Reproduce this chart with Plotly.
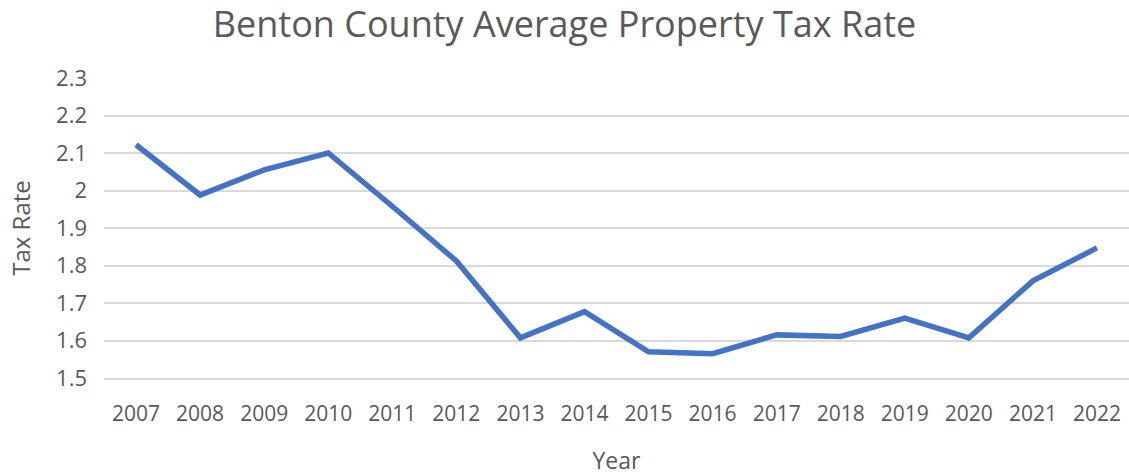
import plotly.graph_objects as go

years = [str(y) for y in range(2007, 2023)]
tax_rate = [2.122, 1.988, 2.055, 2.100, 1.958, 1.812, 1.607, 1.677, 1.570, 1.565,
            1.615, 1.611, 1.660, 1.607, 1.759, 1.847]
y_ticks = [1.5, 1.6, 1.7, 1.8, 1.9, 2.0, 2.1, 2.2, 2.3]
y_tick_text = ["1.5", "1.6", "1.7", "1.8", "1.9", "2", "2.1", "2.2", "2.3"]

FONT = "Open Sans"
GREY = "#595959"

fig = go.Figure()
fig.add_trace(go.Scatter(
    x=years, y=tax_rate, mode="lines",
    line=dict(color="#4472C4", width=5.5),
    hoverinfo="x+y",
))

fig.update_layout(
    width=1129, height=476,
    margin=dict(l=104, r=0, t=78, b=98),
    paper_bgcolor="white", plot_bgcolor="white",
    showlegend=False,
    title=dict(text="Benton County Average Property Tax Rate",
               x=0.5, xanchor="center", y=1 - 24/476, yanchor="middle",
               font=dict(family=FONT, size=36, color=GREY)),
    font=dict(family=FONT, color=GREY),
    xaxis=dict(
        type="category", range=[-0.5, 15.5],
        showgrid=False, zeroline=False,
        showline=True, linecolor="#d9d9d9", linewidth=1.5,
        ticks="", tickfont=dict(family=FONT, size=21, color=GREY),
        ticklabelstandoff=16,
        title=dict(text="Year", font=dict(family=FONT, size=23, color=GREY), standoff=28),
    ),
    yaxis=dict(
        range=[1.5, 2.3], tickvals=y_ticks, ticktext=y_tick_text,
        showgrid=True, gridcolor="#d9d9d9", gridwidth=1.5,
        zeroline=False, showline=False, ticks="",
        tickfont=dict(family=FONT, size=22, color=GREY),
        ticklabelstandoff=16,
        title=dict(text="Tax Rate", font=dict(family=FONT, size=24, color=GREY), standoff=18),
    ),
)

fig.write_html("out.html", config={"displayModeBar": False},
               post_script="document.body.style.margin='0';document.body.style.padding='0';")
